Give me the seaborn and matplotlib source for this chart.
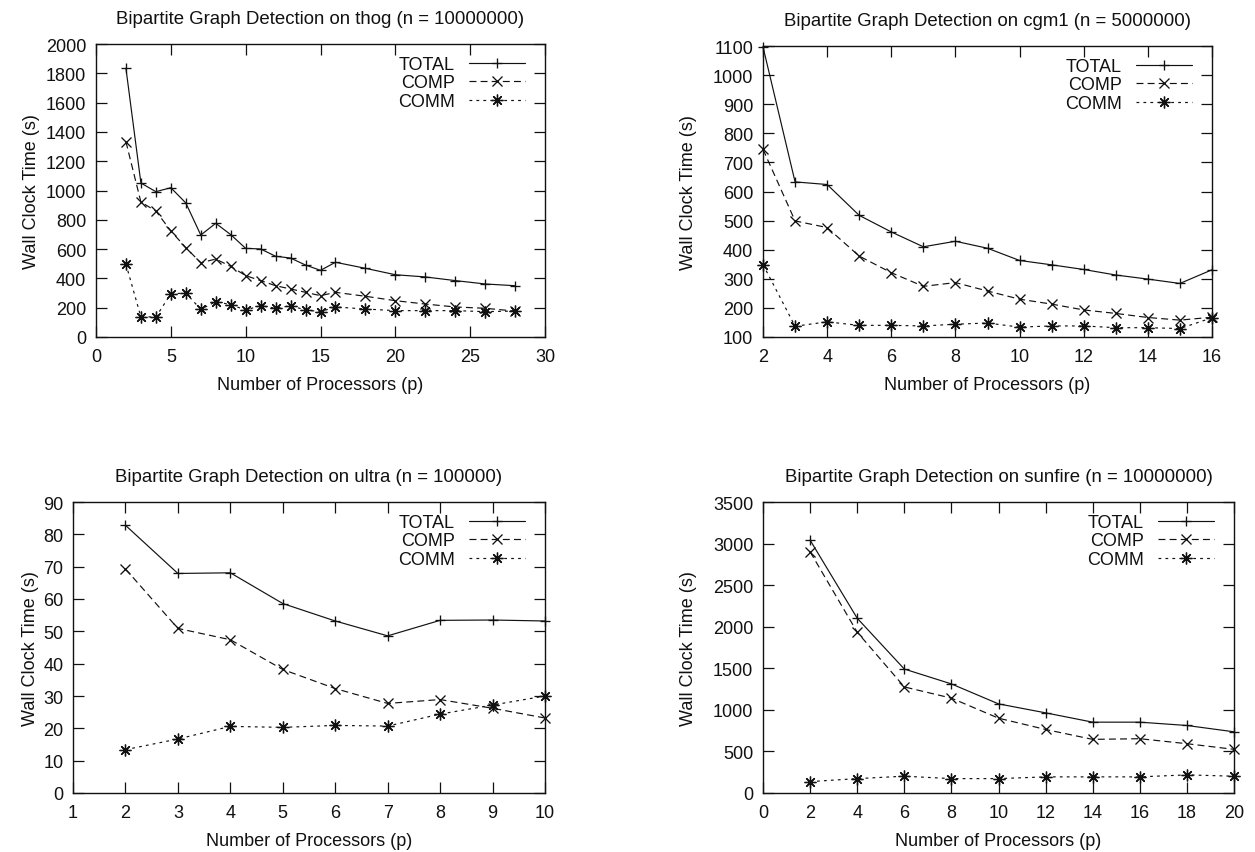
import matplotlib
matplotlib.use("Agg")
import matplotlib.pyplot as plt
import seaborn as sns

# ---- thog (n = 10000000) ----
thog_p = [2, 3, 4, 5, 6, 7, 8, 9, 10, 11, 12, 13, 14, 15, 16, 18, 20, 22, 24, 26, 28]
thog_total = [1834, 1051, 992, 1019, 915, 696, 776, 699, 605, 601, 551, 539, 491, 455,
              510, 469, 425, 410, 385, 362, 350]
thog_comp = [1333, 921, 860, 724, 610, 507, 532, 482, 419, 385, 350, 328, 305, 282,
             305, 278, 248, 225, 205, 196, 177]
thog_comm = [498, 137, 137, 294, 300, 189, 241, 221, 184, 214, 196, 214, 184, 173,
             205, 191, 180, 180, 180, 173, 177]

# ---- cgm1 (n = 5000000) ----
cgm1_p = [2, 3, 4, 5, 6, 7, 8, 9, 10, 11, 12, 13, 14, 15, 16]
cgm1_total = [1097, 633, 624, 518, 461, 410, 429, 405, 363, 348, 332, 313, 299, 284, 331]
cgm1_comp = [745, 499, 476, 378, 321, 274, 287, 258, 230, 213, 193, 181, 167, 158, 168]
cgm1_comm = [349, 137, 152, 140, 140, 138, 144, 148, 134, 138, 138, 132, 132, 129, 166]

# ---- ultra (n = 100000) ----
ultra_p = [2, 3, 4, 5, 6, 7, 8, 9, 10]
ultra_total = [82.8, 67.9, 68.1, 58.6, 53.2, 48.6, 53.4, 53.5, 53.2]
ultra_comp = [69.3, 50.9, 47.4, 38.2, 32.3, 27.7, 28.9, 26.2, 23.2]
ultra_comm = [13.4, 16.7, 20.6, 20.3, 20.9, 20.7, 24.4, 27.2, 30.0]

# ---- sunfire (n = 10000000) ----
sunfire_p = [2, 4, 6, 8, 10, 12, 14, 16, 18, 20]
sunfire_total = [3041, 2102, 1491, 1312, 1072, 964, 852, 852, 812, 736]
sunfire_comp = [2901, 1935, 1276, 1141, 900, 764, 645, 653, 593, 525]
sunfire_comm = [137, 173, 202, 173, 173, 194, 194, 194, 218, 202]

series_names = ["TOTAL", "COMP", "COMM"]

sns.set_theme(style="ticks")
plt.rcParams["font.family"] = ["Liberation Sans", "DejaVu Sans"]
plt.rcParams["lines.scale_dashes"] = False

W, H = 1255, 853
fig = plt.figure(figsize=(W / 100, H / 100), dpi=100)
fig.patch.set_facecolor("white")


def add_axes_px(left, top, right, bottom):
    return fig.add_axes([left / W, 1 - bottom / H, (right - left) / W, (bottom - top) / H])


# box: axes rectangle in pixels (left, top, right, bottom); ylab_x: y-label edge in px
panels = [
    dict(box=(96, 45, 545, 338), ylab_x=40,
         title="Bipartite Graph Detection on thog (n = 10000000)",
         p=thog_p, data=[thog_total, thog_comp, thog_comm],
         xlim=(0, 30), xstep=5, ylim=(0, 2000), ystep=200),
    dict(box=(763, 47, 1212, 338), ylab_x=697,
         title="Bipartite Graph Detection on cgm1 (n = 5000000)",
         p=cgm1_p, data=[cgm1_total, cgm1_comp, cgm1_comm],
         xlim=(2, 16), xstep=2, ylim=(100, 1100), ystep=100),
    dict(box=(73, 503, 545, 794), ylab_x=39,
         title="Bipartite Graph Detection on ultra (n = 100000)",
         p=ultra_p, data=[ultra_total, ultra_comp, ultra_comm],
         xlim=(1, 10), xstep=1, ylim=(0, 90), ystep=10),
    dict(box=(763, 503, 1234, 794), ylab_x=697,
         title="Bipartite Graph Detection on sunfire (n = 10000000)",
         p=sunfire_p, data=[sunfire_total, sunfire_comp, sunfire_comm],
         xlim=(0, 20), xstep=2, ylim=(0, 3500), ystep=500),
]

styles = [
    dict(marker="+", dashes=None, ms=7.5),
    dict(marker="x", dashes=(5, 3), ms=6.5),
    dict(marker=(8, 2, 0), dashes=(2, 3), ms=8.5),
]

ink = "#111111"
fs = 13

for pan in panels:
    ax = add_axes_px(*pan["box"])
    for name, vals, st in zip(series_names, pan["data"], styles):
        sns.lineplot(x=pan["p"], y=vals, ax=ax, color=ink, linewidth=0.85,
                     marker=st["marker"], markersize=st["ms"], markeredgewidth=0.95,
                     markeredgecolor=ink, label=name, clip_on=False, legend=False)
        line = ax.lines[-1]
        if st["dashes"] is not None:
            line.set_dashes(st["dashes"])
    x0, x1 = pan["xlim"]
    y0, y1 = pan["ylim"]
    ax.set_xlim(x0, x1)
    ax.set_ylim(y0, y1)
    ax.set_xticks(range(x0, x1 + 1, pan["xstep"]))
    ax.set_yticks(range(y0, y1 + 1, pan["ystep"]))
    ax.tick_params(direction="in", length=8, width=0.9, top=True, right=True,
                   labelsize=fs, colors=ink)
    ax.tick_params(axis="x", pad=8)
    ax.tick_params(axis="y", pad=7)
    for sp in ax.spines.values():
        sp.set_visible(True)
        sp.set_linewidth(1.0)
        sp.set_color(ink)
    ax.set_facecolor("white")
    ax.set_title(pan["title"], fontsize=13.4, color=ink, pad=15)
    ax.set_xlabel("Number of Processors (p)", fontsize=fs, color=ink, labelpad=7.5)
    ax.set_ylabel("Wall Clock Time (s)", fontsize=fs, color=ink)

    left, top, right, bottom = pan["box"]
    axw = right - left
    axh = bottom - top
    ax.yaxis.set_label_coords((pan["ylab_x"] - left) / axw, 0.5)

    leg = ax.legend(loc="upper right", bbox_to_anchor=(1 - 20 / axw, 1 - 12 / axh),
                    frameon=False, markerfirst=False, numpoints=1, fontsize=fs,
                    handlelength=3.1, handletextpad=0.8, labelspacing=0.08,
                    borderpad=0, borderaxespad=0)
    for t in leg.get_texts():
        t.set_color(ink)

fig.savefig("out.png", dpi=100, facecolor="white")
